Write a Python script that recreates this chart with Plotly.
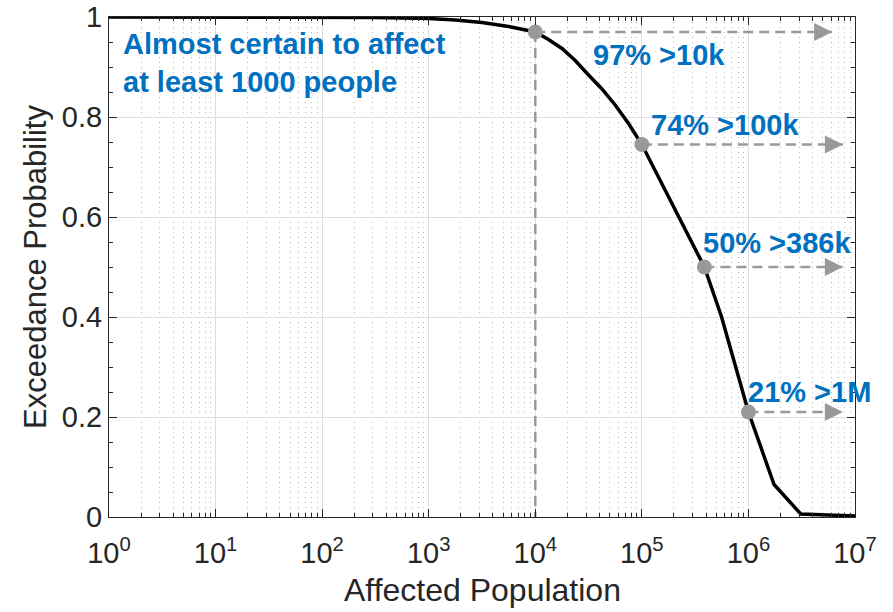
import math
import plotly.graph_objects as go

# ---- data ----
population = [1, 10, 100, 316, 1000, 1780, 3160, 5620, 10000, 13300, 17800, 23700,
              31600, 42200, 56200, 75000, 100000, 386000, 560000, 1000000,
              1740000, 3100000, 10000000]
exceedance = [1.0, 1.0, 1.0, 0.999, 0.997, 0.994, 0.989, 0.981, 0.97, 0.955, 0.937, 0.913,
              0.884, 0.856, 0.824, 0.787, 0.745, 0.50, 0.40, 0.21,
              0.065, 0.006, 0.002]

marker_pop = [10000, 100000, 386000, 1000000]
marker_prob = [0.97, 0.745, 0.50, 0.21]
arrow_end = [6100000, 7700000, 7700000, 7700000]
marker_labels = ["97% &gt;10k", "74% &gt;100k", "50% &gt;386k", "21% &gt;1M"]
label_pop = [33500, 116000, 360000, 950000]
label_prob = [0.925, 0.785, 0.549, 0.251]

main_note = "Almost certain to affect<br>at least 1000 people"
x_title = "Affected Population"
y_title = "Exceedance Probability"

x_tickvals = [10 ** k for k in range(8)]
x_ticktext = [f"10<sup>{k}</sup>" for k in range(8)]
x_minor = [m * 10 ** k for k in range(7) for m in range(2, 10)]

BLUE = "#0070C0"
GRAY = "#999999"
DARK = "#262626"

fig = go.Figure()

# main curve
fig.add_trace(go.Scatter(x=population, y=exceedance, mode="lines",
                         line=dict(color="black", width=3.5),
                         cliponaxis=False, hoverinfo="skip"))

# vertical dashed line at first marker
fig.add_trace(go.Scatter(x=[marker_pop[0], marker_pop[0]], y=[marker_prob[0], 0],
                         mode="lines", line=dict(color=GRAY, width=2.5, dash="10px,6px"),
                         hoverinfo="skip"))

# horizontal dashed arrows
for xp, yp, xe in zip(marker_pop, marker_prob, arrow_end):
    fig.add_trace(go.Scatter(x=[xp, xe], y=[yp, yp], mode="lines",
                             line=dict(color=GRAY, width=2.5, dash="10px,6px"),
                             hoverinfo="skip"))
    fig.add_annotation(x=math.log10(xe), y=yp, xref="x", yref="y",
                       ax=-8, ay=0, text="", showarrow=True,
                       arrowhead=2, arrowsize=1.8, arrowwidth=2,
                       arrowcolor=GRAY, standoff=0)

# markers
fig.add_trace(go.Scatter(x=marker_pop, y=marker_prob, mode="markers",
                         marker=dict(size=15, color=GRAY), cliponaxis=False,
                         hoverinfo="skip"))

for txt, lx, ly in zip(marker_labels, label_pop, label_prob):
    fig.add_annotation(x=math.log10(lx), y=ly, xref="x", yref="y",
                       text=txt, showarrow=False, xanchor="left", yanchor="middle",
                       font=dict(size=29, color=BLUE, weight="bold",
                                 family="Liberation Sans, Arial"))

fig.add_annotation(x=math.log10(1.3), y=0.909, xref="x", yref="y",
                   text=main_note, showarrow=False, xanchor="left", yanchor="middle",
                   align="left",
                   font=dict(size=29, color=BLUE, weight="bold",
                             family="Liberation Sans, Arial"))

# x-axis title (placed as a paper annotation for exact vertical position)
fig.add_annotation(x=0.5, y=-0.146, xref="paper", yref="paper",
                   text=x_title, showarrow=False, xanchor="center", yanchor="middle",
                   font=dict(size=32, color=DARK, family="Liberation Sans, Arial"))

fig.update_layout(
    width=893, height=612,
    margin=dict(l=109, r=38, t=17, b=95),
    plot_bgcolor="white", paper_bgcolor="white",
    showlegend=False,
    font=dict(family="Liberation Sans, Arial", color=DARK),
)

fig.update_xaxes(
    type="log", range=[0, 7], automargin=False,
    tickmode="array", tickvals=x_tickvals, ticktext=x_ticktext,
    ticks="inside", ticklen=8, tickcolor=DARK, tickwidth=1,
    showline=True, linecolor=DARK, linewidth=1, mirror="allticks",
    showgrid=True, gridcolor="#dedede", gridwidth=1, zeroline=False,
    minor=dict(tickmode="array", tickvals=x_minor, ticks="inside", ticklen=4,
               tickcolor=DARK, showgrid=True, gridcolor="#b8b8b8",
               griddash="1px,4px", gridwidth=1),
    tickfont=dict(size=29, color=DARK), ticklabelstandoff=10,
)

fig.update_yaxes(
    range=[0, 1], tickmode="linear", tick0=0, dtick=0.2, automargin=False,
    ticks="inside", ticklen=8, tickcolor=DARK, tickwidth=1,
    showline=True, linecolor=DARK, linewidth=1, mirror="allticks",
    showgrid=True, gridcolor="#dedede", gridwidth=1, zeroline=False,
    minor=dict(tick0=0, dtick=0.05, ticks="inside", ticklen=4, tickcolor=DARK,
               showgrid=False),
    tickfont=dict(size=29, color=DARK),
    title=dict(text=y_title, font=dict(size=31, color=DARK), standoff=6),
)

fig.write_html("out.html")
